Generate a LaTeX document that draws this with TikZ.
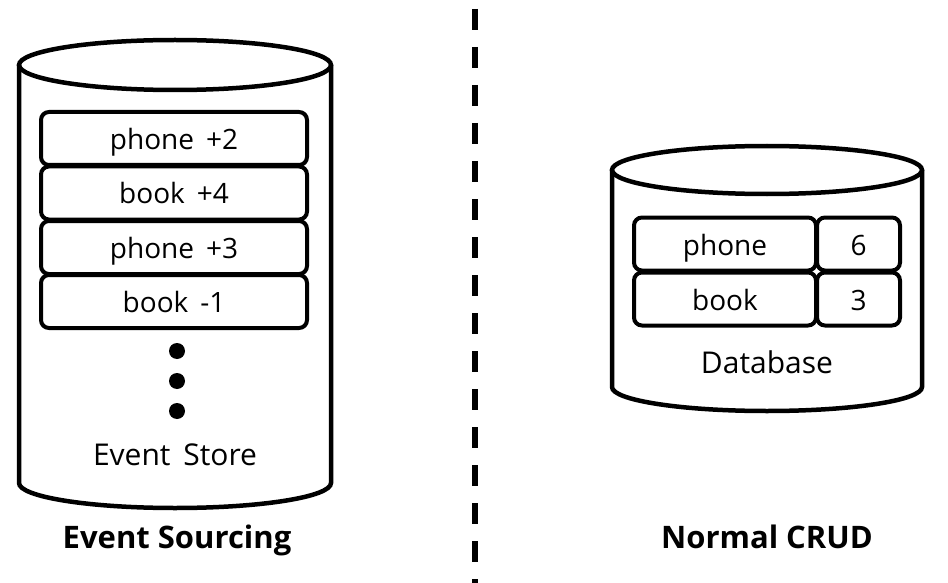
\documentclass[tikz,border=0pt]{standalone}
\usepackage{fontspec}
\setmainfont{Open Sans}
\usepackage{tikz}

\begin{document}
\begin{tikzpicture}[x=1pt, y=-1pt, line width=4.5pt,
        rec/.style={draw, rounded corners=8pt, line width=4pt, minimum height=53pt,
                    inner sep=0pt, text height=22pt, text depth=0pt,
                    font=\fontsize{28}{32}\selectfont},
        dot/.style={circle, fill, inner sep=0pt, minimum size=16pt},
        lbl/.style={anchor=base, font=\fontsize{30}{34}\selectfont},
        title/.style={anchor=base, font=\fontsize{31}{34}\selectfont\bfseries}]
        \useasboundingbox (0,0) rectangle (948,583);

        % event store cylinder
        \draw (175,65) ellipse [x radius=156, y radius=25];
        \draw (19,65) -- (19,483) arc [start angle=180, end angle=0, x radius=156, y radius=25] -- (331,65);

        \node[rec, minimum width=266pt](e1) at (174,138.5) {phone\ \,+2};
        \node[rec, minimum width=266pt](e2) at (174,193) {book\ \,+4};
        \node[rec, minimum width=266pt](e3) at (174,247.5) {phone\ \,+3};
        \node[rec, minimum width=266pt](e4) at (174,301.5) {book\ \,-1};

        \node[dot](d1) at (177,351) {};
        \node[dot](d2) at (177,381) {};
        \node[dot](d3) at (177,411) {};

        \node[lbl](es) at (175,465) {Event\ \,Store};
        \node[title](src) at (177,548) {Event Sourcing};

        % separator
        \coordinate (sepTop) at (475,9);
        \coordinate (sepBot) at (475,583);
        \draw[line width=6pt, dash pattern=on 21pt off 17pt] (sepTop) -- (sepBot);

        % database cylinder
        \draw (767,170) ellipse [x radius=155, y radius=24];
        \draw (612,170) -- (612,387) arc [start angle=180, end angle=0, x radius=155, y radius=24] -- (922,170);

        \node[rec, minimum width=182pt](k1) at (725,244) {phone};
        \node[rec, minimum width=83pt](v1) at (858.5,244) {6};
        \node[rec, minimum width=182pt](k2) at (725,299) {book};
        \node[rec, minimum width=83pt](v2) at (858.5,299) {3};

        \node[lbl](db) at (767,373) {Database};
        \node[title](crud) at (767,548) {Normal CRUD};

      \end{tikzpicture}
\end{document}
